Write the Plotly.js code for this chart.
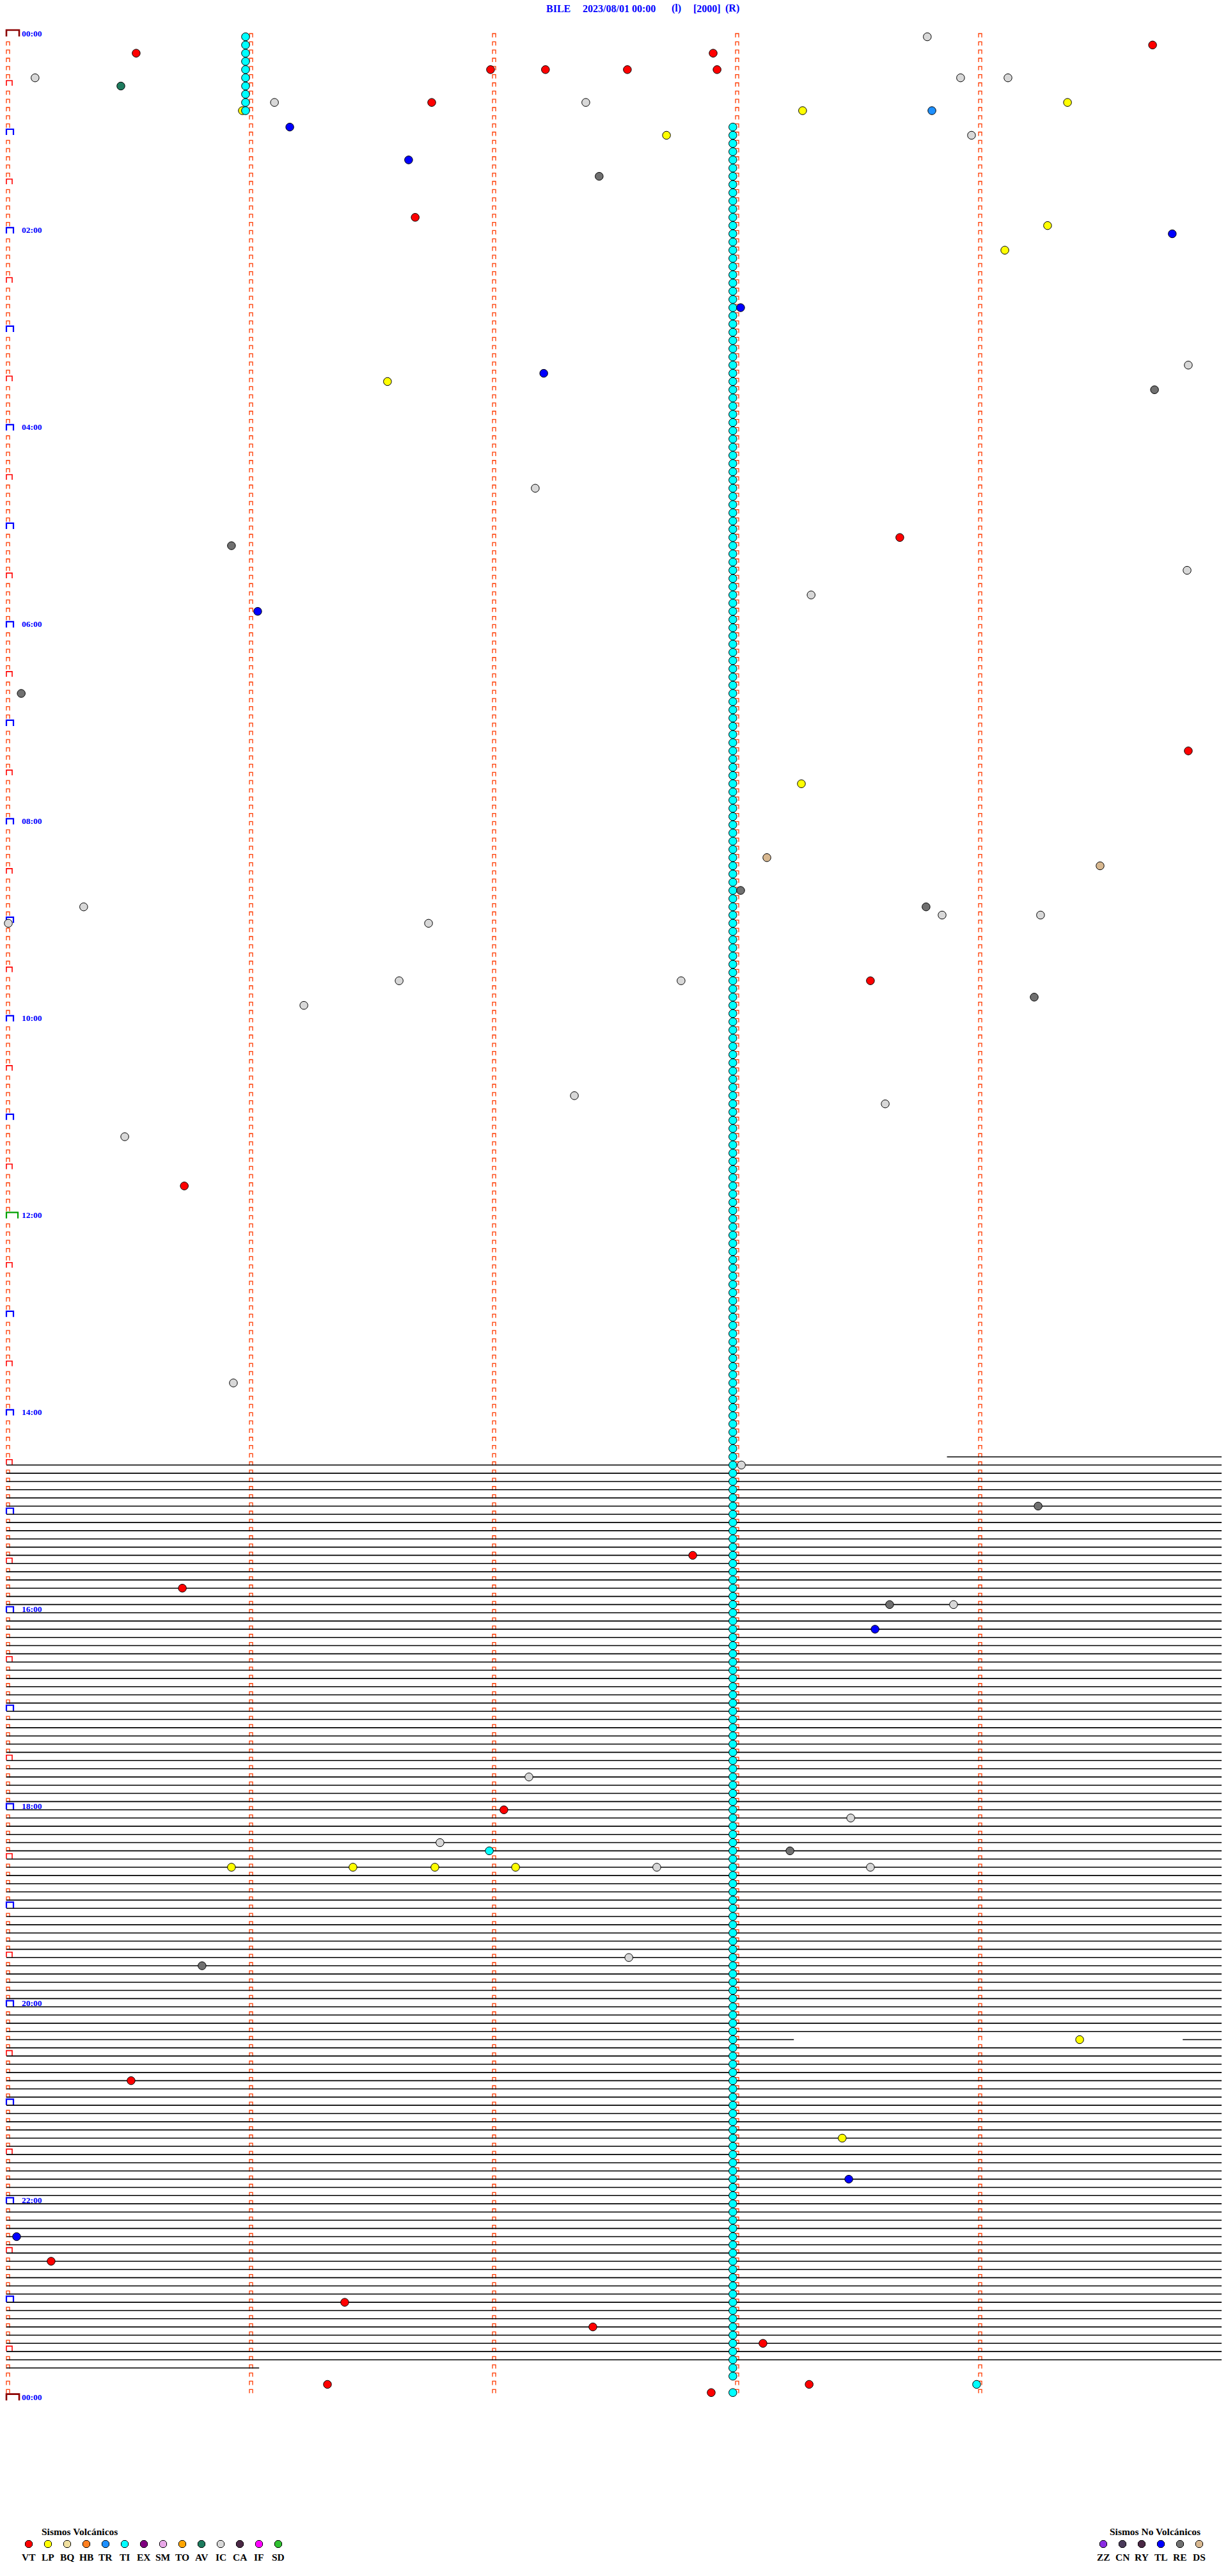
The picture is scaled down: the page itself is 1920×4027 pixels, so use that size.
<!DOCTYPE html>
<html><head><meta charset="utf-8">
<script src="https://cdn.plot.ly/plotly-3.0.1.min.js"></script>
<style>html,body{margin:0;padding:0;background:#fff;} #chart{width:1920px;height:4027px;}</style>
</head><body><div id="chart"></div>
<script>
// ---------------- data ----------------
const station = "BILE";
const dateLabel = "2023/08/01 00:00";
const channelLabel = "(l)";
const scaleLabel = "[2000]";
const modeLabel = "(R)";

const rowsPerDay = 288;      // 5-minute rows
const minutesPerRow = 5;
const hourLabels = ["00:00","02:00","04:00","06:00","08:00","10:00","12:00","14:00","16:00","18:00","20:00","22:00","00:00"];

const volcTypes  = ["VT","LP","BQ","HB","TR","TI","EX","SM","TO","AV","IC","CA","IF","SD"];
const volcColors = ["#FF0000","#FFFF00","#F0E0A0","#FF8020","#1E90FF","#00FFFF","#800080","#E8A8E8","#FFA500","#1E7B5E","#D8D8D8","#4A2845","#FF00FF","#30C030"];
const noVolcTypes  = ["ZZ","CN","RY","TL","RE","DS"];
const noVolcColors = ["#8A2BE2","#4A3A5A","#4A2845","#0000FF","#707070","#D8B890"];

// individual events: row (5-min row index), minute inside row, type
const evRow = [0,1,2,2,4,4,4,4,5,5,5,6,8,8,8,8,9,9,9,11,12,12,15,17,22,23,24,26,33,40,41,42,43,55,61,62,65,68,70,80,87,91,100,101,104,106,106,107,107,108,108,115,115,115,117,118,129,130,134,140,164,174,179,185,189,191,191,194,212,216,217,220,221,221,223,223,223,223,223,223,234,235,244,249,256,261,268,271,276,279,281,286,286,286,287];
const evMin = [3.789,4.716,0.534,2.908,1.992,2.218,2.555,2.924,0.118,3.926,4.121,0.471,1.103,1.750,2.384,4.366,0.971,3.276,3.808,1.166,2.716,3.971,1.655,2.439,1.682,4.284,4.797,4.108,3.021,4.863,2.211,1.568,4.724,2.176,3.676,0.926,4.858,3.311,1.034,0.061,4.863,3.271,3.129,4.500,3.021,0.318,3.784,3.850,4.255,0.008,1.737,1.616,2.776,3.555,4.229,1.224,2.337,3.616,0.487,0.732,0.934,3.024,4.245,2.824,0.724,3.634,3.897,3.574,2.150,2.047,3.474,1.784,1.987,3.224,0.926,1.426,1.763,2.095,2.676,3.555,2.561,0.805,4.416,0.513,3.439,3.466,0.042,0.184,1.392,2.413,3.113,1.321,3.303,3.992,2.900];
const evType = ["IC","VT","VT","VT","VT","VT","VT","VT","IC","IC","IC","AV","IC","VT","IC","LP","LP","LP","TR","TL","LP","IC","TL","RE","VT","LP","TL","LP","TL","IC","TL","LP","RE","IC","VT","RE","IC","IC","TL","RE","VT","LP","DS","DS","RE","IC","RE","IC","IC","IC","IC","IC","IC","VT","RE","IC","IC","IC","IC","VT","IC","IC","RE","VT","VT","RE","IC","TL","IC","VT","IC","IC","TI","RE","LP","LP","LP","LP","IC","IC","IC","RE","LP","VT","LP","TL","TL","VT","VT","VT","VT","VT","VT","TI","VT"];

// repeating TI events (one per row at the same minute)
const tiRunFrom = [0, 11, 287];
const tiRunTo   = [9, 285, 287];
const tiRunMin  = [0.984, 2.989, 2.989];

// trace line segments (flat signal) per row range
const segRowFrom  = [173, 174, 244, 244, 245, 284];
const segRowTo    = [173, 243, 244, 244, 283, 284];
const segMinStart = [3.87, 0, 0, 4.84, 0, 0];
const segMinEnd   = [5, 5, 3.24, 5, 5, 1.04];

// ---------------- layout constants ----------------
const W = 1920, H = 4027;
const PX_PER_MIN = 380, X0 = 10;
const ROW_PX = 12.832, Y0 = 57.5;
const px = 1 / PX_PER_MIN, py = 1 / ROW_PX;
const serif = "Liberation Serif, Times New Roman, serif";

const colorOf = {};
volcTypes.forEach((t, i) => colorOf[t] = volcColors[i]);
noVolcTypes.forEach((t, i) => colorOf[t] = noVolcColors[i]);

// ---------------- column markers ----------------
function bracketPts(arr, c, r, wPx, hPx, bPx) {
  arr.x.push(c, c, c + wPx * px, c + wPx * px, null);
  arr.y.push(r + bPx * py, r - hPx * py, r - hPx * py, r + bPx * py, null);
}
const small = {x: [], y: []}, half = {x: [], y: []}, hour = {x: [], y: []}, noon = {x: [], y: []}, day = {x: [], y: []};
for (let c = 0; c < minutesPerRow; c++) {
  for (let r = 0; r < rowsPerDay; r++) {
    if (c === 0 && (r % 6 === 0)) continue;
    bracketPts(small, c, r, 5, 5, 1);
  }
}
for (let r = 6; r < rowsPerDay; r += 12) bracketPts(half, 0, r, 9, 8.5, -0.5);
for (let r = 12; r < rowsPerDay; r += 12) { if (r !== 144) bracketPts(hour, 0, r, 11, 9.5, -0.5); }
bracketPts(noon, 0, 144, 18, 10, -0.5);
bracketPts(day, 0, 0, 20, 10.5, -0.5);
bracketPts(day, 0, rowsPerDay, 20, 10.5, -0.5);

function lineTrace(d, color, width) {
  return {x: d.x, y: d.y, mode: "lines", type: "scatter", line: {color: color, width: width},
          hoverinfo: "skip", showlegend: false, connectgaps: false, xaxis: "x", yaxis: "y"};
}

// ---------------- trace lines ----------------
const seg = {x: [], y: []};
for (let s = 0; s < segRowFrom.length; s++) {
  for (let r = segRowFrom[s]; r <= segRowTo[s]; r++) {
    seg.x.push(segMinStart[s], segMinEnd[s], null);
    seg.y.push(r, r, null);
  }
}

// ---------------- events ----------------
const events = [];
for (let i = 0; i < evRow.length; i++) events.push({r: evRow[i], m: evMin[i], t: evType[i]});
for (let k = 0; k < tiRunFrom.length; k++)
  for (let r = tiRunFrom[k]; r <= tiRunTo[k]; r++) events.push({r: r, m: tiRunMin[k], t: "TI"});
events.sort((a, b) => (a.r * minutesPerRow + a.m) - (b.r * minutesPerRow + b.m));

const evTrace = {
  x: events.map(e => e.m), y: events.map(e => e.r), mode: "markers", type: "scatter",
  marker: {size: 12.5, color: events.map(e => colorOf[e.t]), line: {color: "#000000", width: 1}, symbol: "circle"},
  hoverinfo: "skip", showlegend: false, xaxis: "x", yaxis: "y"
};

// ---------------- legend (pixel axes) ----------------
const LEG_Y_HEAD = 3957, LEG_Y_MARK = 3977, LEG_Y_LAB = 3997;
const volcX0 = 45, noVolcX0 = 1725, LEG_STEP = 30;
const legTrace = {
  x: volcTypes.map((t, i) => volcX0 + i * LEG_STEP).concat(noVolcTypes.map((t, i) => noVolcX0 + i * LEG_STEP)),
  y: volcTypes.map(() => LEG_Y_MARK).concat(noVolcTypes.map(() => LEG_Y_MARK)),
  mode: "markers", type: "scatter",
  marker: {size: 12, symbol: "octagon", color: volcColors.concat(noVolcColors), line: {color: "#000", width: 1}},
  hoverinfo: "skip", showlegend: false, xaxis: "x2", yaxis: "y2"
};

const annotations = [];
// title pieces
[[station, 852], [dateLabel, 909], [channelLabel, 1048], [scaleLabel, 1082], [modeLabel, 1132]].forEach(p => {
  annotations.push({text: "<b>" + p[0] + "</b>", x: p[1], y: 13, xref: "x2", yref: "y2", xanchor: "left", yanchor: "middle",
    showarrow: false, font: {family: serif, size: 16, color: "#0000FF"}});
});
// hour labels
hourLabels.forEach((lab, k) => {
  annotations.push({text: "<b>" + lab + "</b>", x: 22 * px, y: k * 24 - 5.5 * py, xref: "x", yref: "y",
    xanchor: "left", yanchor: "middle", showarrow: false, font: {family: serif, size: 13.5, color: "#0000FF"}});
});
// legend headings and labels
const legFont = {family: serif, size: 15.5, color: "#000"};
annotations.push({text: "<b>Sismos Volcánicos</b>", x: 63, y: LEG_Y_HEAD, xref: "x2", yref: "y2", xanchor: "left", yanchor: "middle",
  showarrow: false, font: legFont});
annotations.push({text: "<b>Sismos No Volcánicos</b>", x: 1733, y: LEG_Y_HEAD, xref: "x2", yref: "y2", xanchor: "left", yanchor: "middle",
  showarrow: false, font: legFont});
volcTypes.forEach((t, i) => annotations.push({text: "<b>" + t + "</b>", x: volcX0 + i * LEG_STEP, y: LEG_Y_LAB, xref: "x2", yref: "y2",
  xanchor: "center", yanchor: "middle", showarrow: false, font: legFont}));
noVolcTypes.forEach((t, i) => annotations.push({text: "<b>" + t + "</b>", x: noVolcX0 + i * LEG_STEP, y: LEG_Y_LAB, xref: "x2", yref: "y2",
  xanchor: "center", yanchor: "middle", showarrow: false, font: legFont}));

const data = [
  lineTrace(small, "#FF3A00", 1.3),
  lineTrace(half, "#FF0000", 1.6),
  lineTrace(hour, "#0000FF", 2.2),
  lineTrace(noon, "#00A000", 2.2),
  lineTrace(day, "#8B0000", 2.6),
  lineTrace(seg, "#000000", 1.6),
  evTrace,
  legTrace
];

const layout = {
  width: W, height: H,
  margin: {l: 0, r: 0, t: 0, b: 0, pad: 0},
  paper_bgcolor: "#FFFFFF", plot_bgcolor: "#FFFFFF",
  showlegend: false,
  xaxis: {range: [-X0 / PX_PER_MIN, (W - X0) / PX_PER_MIN], visible: false, fixedrange: true},
  yaxis: {range: [(H - Y0) / ROW_PX, -Y0 / ROW_PX], visible: false, fixedrange: true},
  xaxis2: {range: [0, W], visible: false, overlaying: "x", anchor: "y2", fixedrange: true},
  yaxis2: {range: [H, 0], visible: false, overlaying: "y", anchor: "x2", fixedrange: true},
  annotations: annotations
};

Plotly.newPlot("chart", data, layout, {staticPlot: true, displayModeBar: false});
</script>
</body></html>
